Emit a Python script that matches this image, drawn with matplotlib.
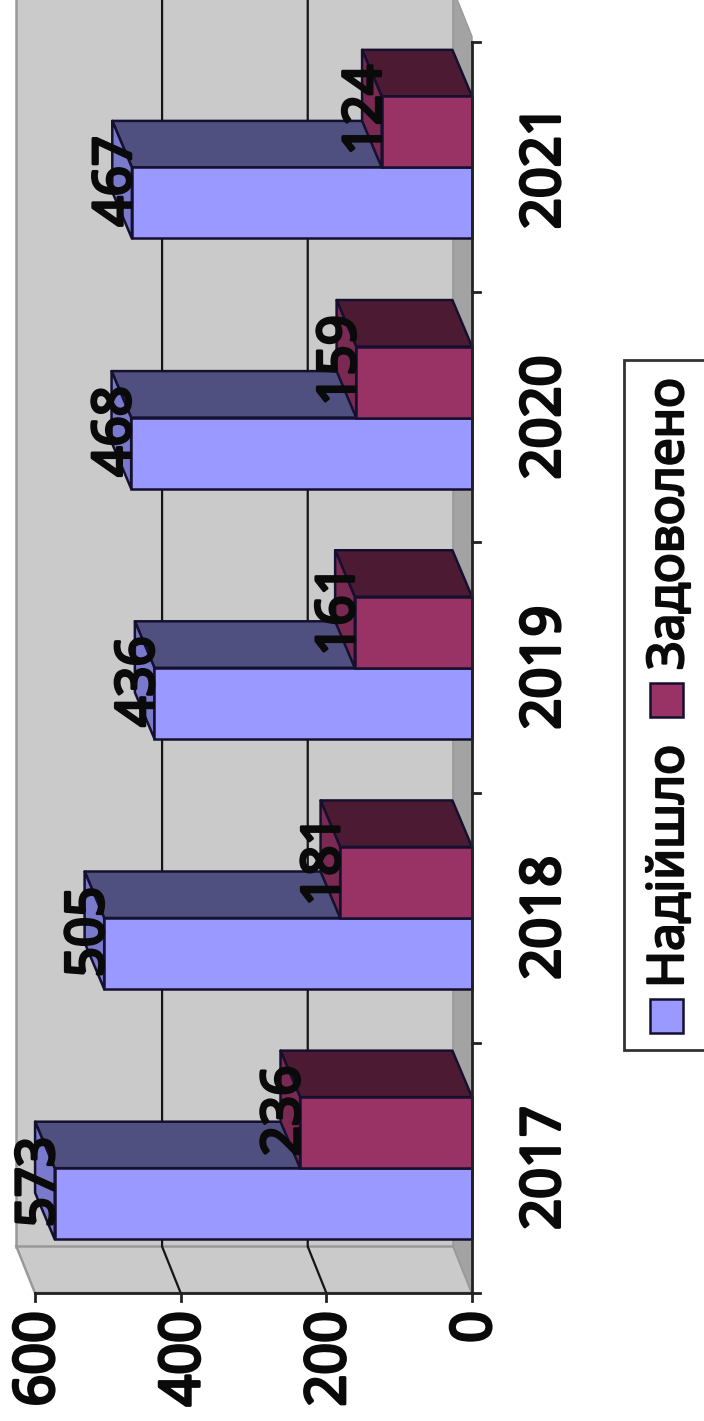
import matplotlib
matplotlib.use("Agg")
import matplotlib.pyplot as plt
import matplotlib.patheffects as pe
from matplotlib.patches import Polygon, Rectangle

plt.rcParams["font.family"] = ["Noto Sans", "DejaVu Sans"]

years = ["2017", "2018", "2019", "2020", "2021"]
received = [573, 505, 436, 468, 467]
granted = [236, 181, 161, 159, 124]
value_ticks = [0, 200, 400, 600]
legend_labels = ["Надійшло", "Задоволено"]

BLUE = ("#9999ff", "#4f4f80", "#7a7acc")
RED = ("#993366", "#4d1a33", "#7a2952")
WALL = "#cacaca"
SIDE = "#a3a3a3"
EDGE = "#999999"
INK = "#0a0a0a"
LINE = "#14102e"

# pixel scale of the picture, so the whole figure is a single axes
PX_PER_UNIT = 0.7283
PX_PER_CAT = 250.2
X0, Y0 = 472.0, 1293.0
W, H = 704, 1421

# 3d offset of the back plane, the wall sits a little nearer than the bar backs
DX = 19.6 / PX_PER_UNIT
DY = 46.5 / PX_PER_CAT
WALL_DX = 18.6 / PX_PER_UNIT
BAR_H = 0.284
BAR_START = 0.2148
# rotated glyphs sit left of their anchor, push them back
TEXT_NUDGE = 4 / PX_PER_UNIT

# installed Noto Sans has no heavy cut here, thicken it with a stroke
heavy = [pe.withStroke(linewidth=2.2, foreground=INK)]


def xpx(px):
    return (X0 - px) / PX_PER_UNIT


def ypx(px):
    return (Y0 - px) / PX_PER_CAT


def face(ax, pts, color, z=3):
    ax.add_patch(Polygon(pts, closed=True, facecolor=color, edgecolor=LINE,
                         linewidth=1.8, joinstyle="round", zorder=z))


def draw_bars(ax, values, start, colors, z):
    pos = [i + start + BAR_H / 2 for i in range(len(values))]
    for p, v in zip(pos, values):
        lo, hi = p - BAR_H / 2, p + BAR_H / 2
        face(ax, [(0, hi), (v, hi), (v + DX, hi + DY), (DX, hi + DY)], colors[1], z)
        face(ax, [(v, lo), (v, hi), (v + DX, hi + DY), (v + DX, lo + DY)], colors[2], z)
    ax.barh(pos, values, height=BAR_H, color=colors[0], edgecolor=LINE,
            linewidth=1.8, zorder=z + 0.1)
    for p, v in zip(pos, values):
        ax.text(v + DX * 0.95 - TEXT_NUDGE, p + DY * 0.5 - 0.006, str(v), rotation=90,
                ha="center", va="center", fontsize=38, color=INK, zorder=8,
                path_effects=heavy)


fig = plt.figure(figsize=(W / 100, H / 100), dpi=100)
ax = fig.add_axes([0, 0, 1, 1])
ax.set_xlim(xpx(0), xpx(W))
ax.set_ylim(ypx(H), ypx(0))
ax.axis("off")

top = ypx(-10)
vmax = value_ticks[-1]

# back wall, floor and the darker side wall
ax.add_patch(Rectangle((WALL_DX, DY), vmax, top - DY, facecolor=WALL, edgecolor=EDGE,
                       linewidth=1.8, zorder=1))
ax.add_patch(Polygon([(0, 0), (vmax, 0), (vmax + WALL_DX, DY), (WALL_DX, DY)], closed=True,
                     facecolor=WALL, edgecolor=EDGE, linewidth=1.8, zorder=1))
ax.add_patch(Polygon([(0, 0), (WALL_DX, DY), (WALL_DX, top), (0, top - DY)], closed=True,
                     facecolor=SIDE, edgecolor=EDGE, linewidth=1.0, zorder=1.1))

# gridlines run up the wall and across the floor
for v in value_ticks[1:-1]:
    ax.plot([v, v + WALL_DX, v + WALL_DX], [0, DY, top], color="#151515", linewidth=1.6, zorder=2)

draw_bars(ax, received, BAR_START, BLUE, 3)
draw_bars(ax, granted, BAR_START + BAR_H, RED, 4)

# axis lines and ticks
ax.plot([0, vmax], [0, 0], color="#222222", linewidth=2, zorder=5)
ax.plot([0, 0], [0, len(years)], color="#222222", linewidth=2, zorder=5)
for v in value_ticks:
    ax.plot([v, v], [0, ypx(Y0 + 8)], color="#222222", linewidth=2, zorder=5)
    ax.text(v - TEXT_NUDGE, ypx(1311), str(v), rotation=90, ha="center", va="top",
            fontsize=40, color=INK, path_effects=heavy)
for i in range(len(years) + 1):
    ax.plot([0, xpx(X0 + 8)], [i, i], color="#222222", linewidth=2, zorder=5)
for i, y in enumerate(years):
    ax.text(xpx(541) - TEXT_NUDGE, i + 0.5, y, rotation=90, ha="center", va="center",
            fontsize=39, color=INK, path_effects=heavy)

# legend box, cut by the right edge of the picture like the original
ax.add_patch(Rectangle((xpx(624), ypx(1050)), xpx(720) - xpx(624), ypx(360) - ypx(1050),
                       facecolor="white", edgecolor="#333333", linewidth=2, zorder=6))
swatches = [(1016, BLUE[0], 988), (700, RED[0], 670)]
for (yc, color, text_y), label in zip(swatches, legend_labels):
    ax.add_patch(Rectangle((xpx(650), ypx(yc + 17)), xpx(683) - xpx(650), 34 / PX_PER_CAT,
                           facecolor=color, edgecolor=LINE, linewidth=1.8, zorder=7))
    ax.text(xpx(670), ypx(text_y), label, rotation=90, ha="center", va="bottom",
            fontsize=36, color=INK, zorder=7,
            path_effects=[pe.withStroke(linewidth=1.6, foreground=INK)])

fig.savefig("out.png", dpi=100)
